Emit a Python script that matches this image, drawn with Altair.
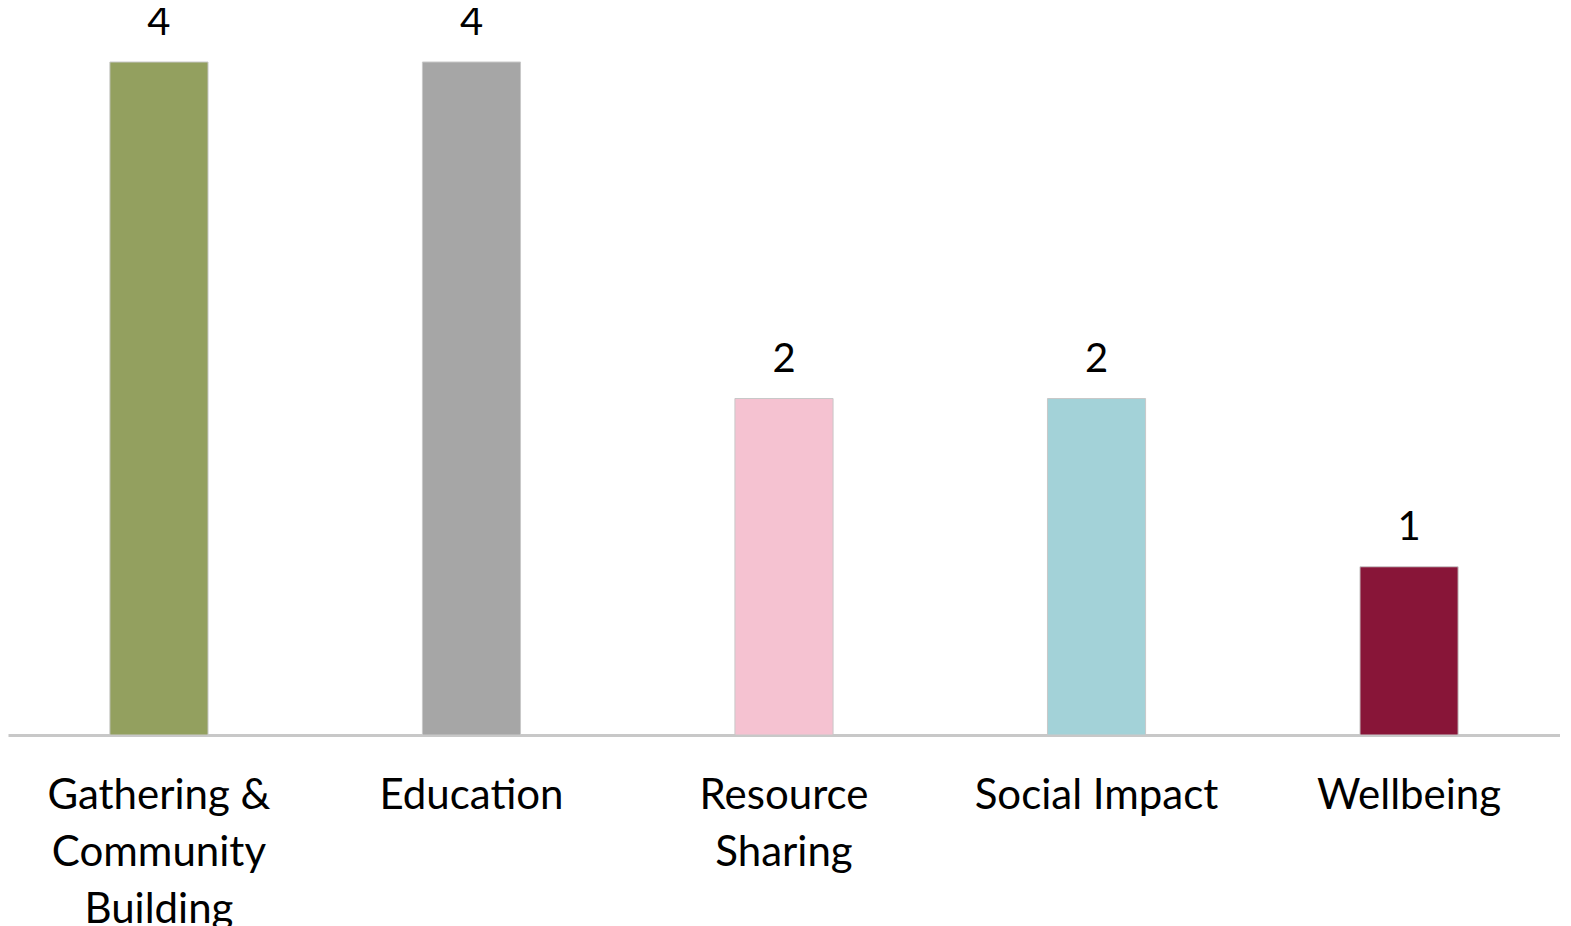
import altair as alt
import pandas as pd

categories = ["Gathering & Community Building", "Education", "Resource Sharing", "Social Impact", "Wellbeing"]
values = [4, 4, 2, 2, 1]
colors = ["#93A05F", "#A6A6A6", "#F5C2D1", "#A3D2D8", "#881538"]
label_lines = {
    "Gathering & Community Building": ["Gathering &", "Community", "Building"],
    "Resource Sharing": ["Resource", "Sharing"],
}

df = pd.DataFrame({"category": categories, "value": values})

expr = "datum.label"
for k, v in label_lines.items():
    arr = "[" + ",".join("'" + s + "'" for s in v) + "]"
    expr = f"datum.label == '{k}' ? {arr} : ({expr})"

FONT = "Lato"

x = alt.X("category:N", sort=categories, title=None,
          scale=alt.Scale(paddingInner=0.686, paddingOuter=0.326),
          axis=alt.Axis(labelAngle=0, labelFontSize=42, labelFont=FONT, labelColor="#000000",
                        labelPadding=40, labelLineHeight=57, labelLimit=0, ticks=False,
                        domainColor="#C8C8C8", domainWidth=3, labelExpr=expr, labelBaseline="top"))

bars = alt.Chart(df).mark_bar(stroke="#C8C8C8", strokeWidth=1).encode(
    x=x,
    y=alt.Y("value:Q", scale=alt.Scale(domain=[0, 4]), axis=None),
    color=alt.Color("category:N", sort=categories,
                    scale=alt.Scale(domain=categories, range=colors), legend=None),
)

text = alt.Chart(df).mark_text(fontSize=40, font=FONT, baseline="bottom", dy=-19, color="#000000").encode(
    x=alt.X("category:N", sort=categories),
    y="value:Q",
    text="value:Q",
)

chart = (bars + text).properties(
    width=1552, height=673,
    padding={"left": 0, "top": 54, "right": 0, "bottom": 200},
    autosize=alt.AutoSizeParams(type="none"),
).configure_view(stroke=None)

chart.save("out.html", embed_options={"renderer": "svg", "actions": False})
